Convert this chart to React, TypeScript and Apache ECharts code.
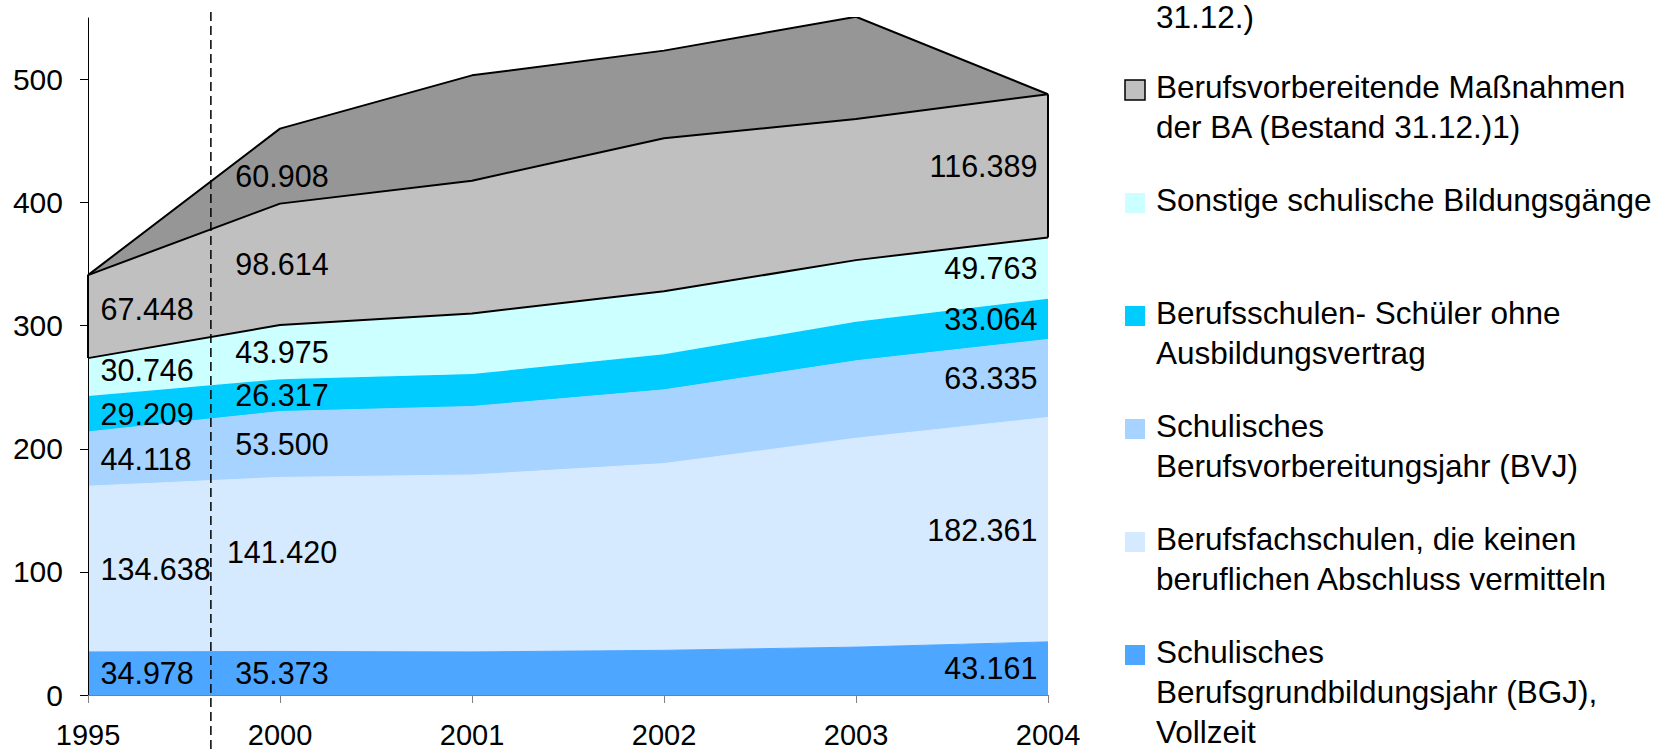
import React, { useEffect, useRef } from "react";
import * as echarts from "echarts";

// ---- data (values in thousands) ----
const years = ["1995", "2000", "2001", "2002", "2003", "2004"];
const bgj = [34.978, 35.373, 35.0, 36.3, 38.9, 43.161];
const bfs = [134.638, 141.42, 143.8, 151.7, 169.7, 182.361];
const bvj = [44.118, 53.5, 55.6, 59.9, 62.9, 63.335];
const bsOhneVertrag = [29.209, 26.317, 26.3, 29.0, 31.7, 33.064];
const sonstige = [30.746, 43.975, 49.3, 51.1, 50.1, 49.763];
const baMassnahmen = [67.448, 98.614, 107.8, 124.3, 114.7, 116.389];
const jump = [0, 60.908, 85.6, 71.2, 83.0, 0];

const seriesNames = [
  "Schulisches Berufsgrundbildungsjahr (BGJ), Vollzeit",
  "Berufsfachschulen, die keinen beruflichen Abschluss vermitteln",
  "Schulisches Berufsvorbereitungsjahr (BVJ)",
  "Berufsschulen- Schüler ohne Ausbildungsvertrag",
  "Sonstige schulische Bildungsgänge",
  "Berufsvorbereitende Maßnahmen der BA (Bestand 31.12.)1)",
  "Jugendsofortprogramm JUMP (Bestand 31.12.)",
];

// legend texts, top to bottom (first entry is cut off at the top in the original)
const legendTexts = [
  "31.12.)",
  "Berufsvorbereitende Maßnahmen\nder BA (Bestand 31.12.)1)",
  "Sonstige schulische Bildungsgänge",
  "Berufsschulen- Schüler ohne\nAusbildungsvertrag",
  "Schulisches\nBerufsvorbereitungsjahr (BVJ)",
  "Berufsfachschulen, die keinen\nberuflichen Abschluss vermitteln",
  "Schulisches\nBerufsgrundbildungsjahr (BGJ),\nVollzeit",
];

const yTicks = [0, 100, 200, 300, 400, 500];
const labelYears = ["1995", "2000", "2004"];

// ---- styles ----
const FONT = "Liberation Sans";
const colors = ["#4da6ff", "#d5e9ff", "#a6d3ff", "#00ccff", "#ccffff", "#c0c0c0", "#969696"];
const blackTop = [false, false, false, false, true, true, true];
const seriesZ = [2, 2, 2, 2, 4, 3, 2];
const labelNudge: Record<string, number> = { "5-1995": -8, "4-1995": -7, "6-2000": 10, "1-2000": -12 };

export default function App() {
  const ref = useRef<HTMLDivElement>(null);

  useEffect(() => {
    document.body.style.margin = "0";
    if (!ref.current) return;
    const chart = echarts.init(ref.current, undefined, { renderer: "svg" });

    const dataSets = [bgj, bfs, bvj, bsOhneVertrag, sonstige, baMassnahmen, jump];
    const cum: number[][] = [];
    dataSets.forEach((d, s) => {
      cum.push(d.map((v, i) => v + (s > 0 ? cum[s - 1][i] : 0)));
    });

    const areaSeries: any[] = dataSets.map((d, s) => {
      const ser: any = {
        name: seriesNames[s],
        type: "line",
        stack: "total",
        data: d,
        showSymbol: false,
        symbol: "none",
        z: seriesZ[s],
        areaStyle: { color: colors[s], opacity: 1 },
        lineStyle: blackTop[s]
          ? { color: "#000", width: 2 }
          : { color: colors[s], width: 1 },
        emphasis: { disabled: true },
        silent: true,
      };
      if (s === 5) {
        const last = years.length - 1;
        ser.markLine = {
          silent: true,
          symbol: ["none", "none"],
          label: { show: false },
          lineStyle: { color: "#000", width: 2, type: "solid" },
          data: [
            [{ coord: [years[0], cum[4][0]] }, { coord: [years[0], cum[5][0]] }],
            [{ coord: [years[last], cum[4][last]] }, { coord: [years[last], cum[5][last]] }],
          ],
        };
      }
      return ser;
    });

    const labelPoints: any[] = [];
    dataSets.forEach((d, s) => {
      labelYears.forEach((yr) => {
        const i = years.indexOf(yr);
        const v = d[i];
        if (!v) return;
        const base = s > 0 ? cum[s - 1][i] : 0;
        const nudge = labelNudge[`${s}-${yr}`] || 0;
        let label: any;
        if (i === 0) label = { position: "right", distance: 12, offset: [0, nudge] };
        else if (i === years.length - 1) label = { position: "left", distance: 10, offset: [0, nudge] };
        else label = { position: "inside", offset: [2, nudge] };
        labelPoints.push({
          value: [yr, base + v / 2],
          label: { ...label, formatter: v.toFixed(3) },
        });
      });
    });

    const option: any = {
      animation: false,
      grid: { left: 88, right: 617, top: 18, bottom: 58, containLabel: false, outerBoundsMode: "none" },
      xAxis: {
        type: "category",
        data: years,
        boundaryGap: false,
        z: 10,
        axisLine: { lineStyle: { color: "#808080", width: 1 } },
        axisTick: { alignWithLabel: true, length: 8, lineStyle: { color: "#808080" } },
        axisLabel: { fontSize: 29, fontFamily: FONT, color: "#000", margin: 28, lineHeight: 24 },
        splitLine: { show: false },
      },
      yAxis: {
        type: "value",
        min: 0,
        max: 550,
        interval: 100,
        z: 10,
        axisLine: { show: true, lineStyle: { color: "#000", width: 1 } },
        axisTick: { show: true, length: 8, lineStyle: { color: "#000" }, customValues: yTicks },
        axisLabel: { fontSize: 30, fontFamily: FONT, color: "#000", margin: 25, customValues: yTicks },
        splitLine: { show: false },
      },
      series: [
        ...areaSeries,
        {
          name: "labels",
          type: "scatter",
          data: labelPoints,
          symbolSize: 1,
          z: 20,
          silent: true,
          itemStyle: { color: "rgba(0,0,0,0)" },
          label: {
            show: true,
            fontSize: 30.5,
            fontFamily: FONT,
            color: "#000",
            opacity: 1,
            textBorderWidth: 0,
            textShadowBlur: 0,
          },
        },
      ],
    };

    chart.setOption(option);

    const x0 = chart.convertToPixel({ xAxisIndex: 0 }, years[0]) as number;
    const x1 = chart.convertToPixel({ xAxisIndex: 0 }, years[1]) as number;
    const dashX = x0 + (x1 - x0) * 0.64;

    const legendOrder = [6, 5, 4, 3, 2, 1, 0];
    const graphics: any[] = [];
    legendOrder.forEach((s, k) => {
      const center = -26 + 113 * k;
      if (k === 0) {
        graphics.push({
          type: "text",
          x: 1156,
          y: 3,
          z: 100,
          style: { text: legendTexts[0], fontSize: 31.5, fontFamily: FONT, fill: "#000", lineHeight: 28, verticalAlign: "top" },
        });
        return;
      }
      graphics.push({
        type: "rect",
        shape: { x: 1125, y: center + 3 - 10, width: 20, height: 20 },
        z: 100,
        style: s === 5 ? { fill: colors[s], stroke: "#000", lineWidth: 1.5 } : { fill: colors[s] },
      });
      graphics.push({
        type: "text",
        x: 1156,
        y: center - 20,
        z: 100,
        style: { text: legendTexts[k], fontSize: 31.5, fontFamily: FONT, fill: "#000", lineHeight: 40, verticalAlign: "top" },
      });
    });
    graphics.push({
      type: "line",
      z: 100,
      shape: { x1: dashX, y1: 12, x2: dashX, y2: 753 },
      style: { stroke: "#000", lineWidth: 1.5, lineDash: [9, 5] },
    });

    chart.setOption({ graphic: graphics });

    return () => chart.dispose();
  }, []);

  return <div ref={ref} style={{ width: 1665, height: 753 }} />;
}
